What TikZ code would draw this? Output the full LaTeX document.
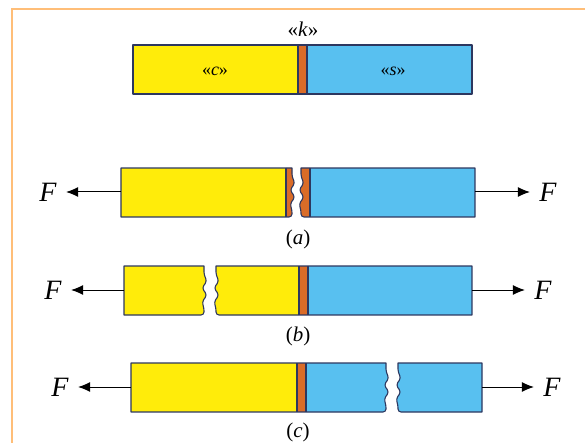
\documentclass[tikz,border=0pt]{standalone}
\usepackage{fontspec}
\setmainfont{Liberation Serif}
\usepackage{xcolor}
\usetikzlibrary{arrows.meta}
\definecolor{barYellow}{RGB}{255,236,10}
\definecolor{barBlue}{RGB}{88,192,240}
\definecolor{barOrange}{RGB}{218,108,40}
\definecolor{barEdge}{RGB}{45,55,95}
\definecolor{frameOrange}{RGB}{255,190,120}
\tikzstyle{edge line}=[
    draw = barEdge,
    line width = 1.1pt,
    line join = round
]
\tikzstyle{force}=[
    line width = 1pt,
    shorten > = 6pt,
    -{Latex[length=12pt,width=10pt]}
]
% crack edge, top to bottom, 49 high
\newcommand{\crackdown}{[rounded corners=3pt] -- ++(0,9) -- ++(3,6) -- ++(-5,7) -- ++(5,7) -- ++(-5,7) -- ++(2,6) -- ++(0,7) [sharp corners]}

\begin{document}
\begin{tikzpicture}[x=1pt, y=-1pt, font=\fontsize{21}{25}\selectfont,
    label/.style = {inner sep=1pt},
    forcelabel/.style = {font=\fontsize{28}{32}\selectfont\itshape}]
        \useasboundingbox (0,0) rectangle (585,443);
        \draw[frameOrange, line width=1.6pt] (12,443) -- (12,9) -- (585,9);

        % bar before loading
        \fill[barYellow] (133,45) rectangle (298,94);
        \fill[barOrange] (298,45) rectangle (307,94);
        \fill[barBlue] (307,45) rectangle (472,94);
        \draw[edge line] (133,45) rectangle (472,94);
        \draw[edge line] (298,45) -- (298,94) (307,45) -- (307,94);
        \node[label] (k) at (303,29) {«\textit{k}»};
        \node[label, font=\fontsize{18}{22}\selectfont] (cs) at (215,71) {«\textit{c}»};
        \node[label, font=\fontsize{18}{22}\selectfont] (ss) at (393,71) {«\textit{s}»};

        % (a) break at the joint
        \fill[barYellow] (121,168) rectangle (286,217);
        \fill[barOrange] (286,168) -- (292,168) \crackdown -- (286,217) -- cycle;
        \draw[edge line] (121,168) -- (292,168) \crackdown -- (121,217) -- cycle;
        \draw[edge line] (286,168) -- (286,217);
        \fill[barOrange] (301,168) \crackdown -- (310,217) -- (310,168) -- cycle;
        \fill[barBlue] (310,168) rectangle (475,217);
        \draw[edge line] (301,168) \crackdown -- (475,217) -- (475,168) -- cycle;
        \draw[edge line] (310,168) -- (310,217);
        \coordinate (aL) at (121,192);
        \coordinate (aR) at (475,192);
        \node[forcelabel] (FaL) at (48,192) {F};
        \node[forcelabel] (FaR) at (548,192) {F};
        \draw[force] (aL) -- (FaL.east);
        \draw[force] (aR) -- (FaR.west);
        \node[label] (a) at (298,239) {(\textit{a})};

        % (b) break in the yellow part
        \fill[barYellow] (124,266) -- (204,266) \crackdown -- (124,315) -- cycle;
        \draw[edge line] (124,266) -- (204,266) \crackdown -- (124,315) -- cycle;
        \fill[barYellow] (216,266) \crackdown -- (299,315) -- (299,266) -- cycle;
        \fill[barOrange] (299,266) rectangle (308,315);
        \fill[barBlue] (308,266) rectangle (472,315);
        \draw[edge line] (216,266) \crackdown -- (472,315) -- (472,266) -- cycle;
        \draw[edge line] (299,266) -- (299,315) (308,266) -- (308,315);
        \coordinate (bL) at (124,290);
        \coordinate (bR) at (472,290);
        \node[forcelabel] (FbL) at (53,290) {F};
        \node[forcelabel] (FbR) at (543,290) {F};
        \draw[force] (bL) -- (FbL.east);
        \draw[force] (bR) -- (FbR.west);
        \node[label] (b) at (298,336) {(\textit{b})};

        % (c) break in the blue part
        \fill[barYellow] (131,363) rectangle (297,412);
        \fill[barOrange] (297,363) rectangle (306,412);
        \fill[barBlue] (306,363) -- (386,363) \crackdown -- (306,412) -- cycle;
        \draw[edge line] (131,363) -- (386,363) \crackdown -- (131,412) -- cycle;
        \draw[edge line] (297,363) -- (297,412) (306,363) -- (306,412);
        \fill[barBlue] (398,363) \crackdown -- (482,412) -- (482,363) -- cycle;
        \draw[edge line] (398,363) \crackdown -- (482,412) -- (482,363) -- cycle;
        \coordinate (cL) at (131,387);
        \coordinate (cR) at (482,387);
        \node[forcelabel] (FcL) at (60,387) {F};
        \node[forcelabel] (FcR) at (552,387) {F};
        \draw[force] (cL) -- (FcL.east);
        \draw[force] (cR) -- (FcR.west);
        \node[label] (c) at (298,432) {(\textit{c})};

    \end{tikzpicture}
\end{document}
